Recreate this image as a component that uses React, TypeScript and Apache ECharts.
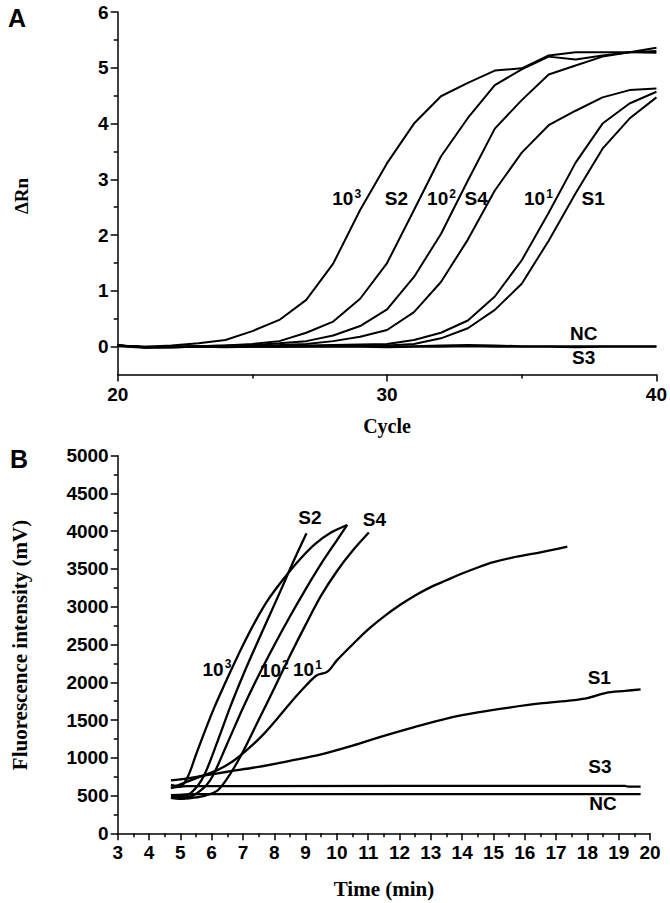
import React, { useEffect, useRef } from "react";
import * as echarts from "echarts";

// ---------- Panel A (real-time PCR) ----------
const cyclesA = [20, 21, 22, 23, 24, 25, 26, 27, 28, 29, 30, 31, 32, 33, 34, 35, 36, 37, 38, 39, 40];
const a10e3 = [0.02, 0.0, 0.02, 0.06, 0.12, 0.28, 0.48, 0.84, 1.49, 2.45, 3.29, 4.0, 4.49, 4.73, 4.95, 4.99, 5.22, 5.28, 5.28, 5.28, 5.27];
const aS2 = [0.02, -0.01, 0.0, 0.01, 0.02, 0.05, 0.1, 0.25, 0.45, 0.86, 1.5, 2.45, 3.41, 4.1, 4.69, 4.97, 5.2, 5.15, 5.22, 5.28, 5.3];
const a10e2 = [0.02, -0.01, 0.0, 0.01, 0.02, 0.03, 0.06, 0.1, 0.2, 0.37, 0.67, 1.25, 2.02, 2.98, 3.91, 4.42, 4.88, 5.04, 5.2, 5.28, 5.36];
const aS4 = [0.02, -0.01, -0.01, 0.0, 0.01, 0.02, 0.03, 0.05, 0.1, 0.18, 0.3, 0.62, 1.16, 1.92, 2.8, 3.48, 3.97, 4.23, 4.47, 4.6, 4.63];
const a10e1 = [0.02, -0.01, -0.01, 0.0, 0.0, 0.01, 0.01, 0.02, 0.03, 0.04, 0.05, 0.12, 0.25, 0.47, 0.9, 1.55, 2.4, 3.3, 4.0, 4.36, 4.57];
const aS1 = [0.02, -0.01, -0.01, 0.0, 0.0, 0.0, 0.01, 0.01, 0.02, 0.02, 0.02, 0.05, 0.15, 0.33, 0.66, 1.13, 1.9, 2.75, 3.55, 4.09, 4.47];
const aNC = [0.02, 0.0, 0.0, 0.01, 0.0, 0.01, 0.0, 0.01, 0.01, 0.01, 0.01, 0.01, 0.02, 0.03, 0.02, 0.01, 0.01, 0.01, 0.01, 0.01, 0.01];
const aS3 = [0.01, -0.02, -0.01, 0.0, -0.01, 0.0, 0.0, 0.0, 0.0, 0.0, -0.01, 0.0, 0.0, 0.01, 0.0, 0.0, 0.0, -0.01, 0.0, 0.0, 0.0];

const aYLabels = [0, 1, 2, 3, 4, 5, 6];
const aYMinor = [0.5, 1.5, 2.5, 3.5, 4.5, 5.5];

const aLabelText = ["10", "S2", "10", "S4", "10", "S1", "NC", "S3"];
const aLabelSup = ["3", "", "2", "", "1", "", "", ""];
const aLabelX = [28.5, 30.35, 32.02, 33.31, 35.62, 37.65, 37.3, 37.3];
const aLabelY = [2.65, 2.65, 2.65, 2.65, 2.65, 2.65, 0.23, -0.2];

// ---------- Panel B (isothermal detection) ----------
const bT10e3 = [4.7, 5.0, 5.25, 5.5, 5.8, 6.1, 6.4, 6.7, 7.0, 7.4, 7.8, 8.3, 8.8, 9.3, 9.8, 10.33];
const bV10e3 = [640, 620, 760, 1040, 1370, 1680, 1960, 2230, 2490, 2810, 3090, 3370, 3620, 3830, 3980, 4083];
const bTS2 = [4.7, 5.0, 5.35, 5.75, 6.2, 6.6, 7.0, 7.4, 7.8, 8.2, 8.6, 9.03];
const bVS2 = [500, 490, 540, 760, 1230, 1680, 2090, 2470, 2840, 3210, 3590, 3974];
const bT10e2 = [4.7, 5.0, 5.45, 5.95, 6.5, 7.0, 7.5, 8.0, 8.5, 9.0, 9.5, 10.0, 10.33];
const bV10e2 = [480, 470, 510, 700, 1190, 1660, 2090, 2490, 2870, 3230, 3570, 3880, 4083];
const bTS4 = [4.7, 5.0, 5.4, 5.8, 6.2, 6.6, 7.0, 7.5, 8.0, 8.5, 9.0, 9.5, 10.0, 10.5, 11.02];
const bVS4 = [470, 455, 470, 500, 570, 790, 1080, 1500, 1920, 2350, 2760, 3150, 3470, 3740, 3982];
const bT10e1 = [4.7, 5.2, 5.7, 6.2, 6.7, 7.2, 7.7, 8.1, 8.5, 9.0, 9.35, 9.7, 10.0, 10.5, 11.0, 11.5, 12.0, 12.5, 13.0, 13.5, 14.0, 14.5, 15.0, 15.6, 16.5, 17.36];
const bV10e1 = [600, 680, 760, 840, 960, 1130, 1330, 1520, 1720, 1950, 2090, 2140, 2290, 2500, 2700, 2870, 3020, 3150, 3260, 3350, 3440, 3520, 3590, 3650, 3720, 3796];
const bTS1 = [4.7, 5.2, 5.7, 6.5, 7.5, 8.5, 9.5, 10.5, 11.5, 12.5, 13.5, 14.5, 15.5, 16.5, 17.5, 18.0, 18.6, 19.2, 19.7];
const bVS1 = [700, 725, 760, 815, 880, 960, 1045, 1160, 1290, 1410, 1520, 1600, 1665, 1720, 1760, 1790, 1860, 1885, 1907];
const bTS3 = [4.7, 5.2, 19.2, 19.3, 19.7];
const bVS3 = [600, 625, 628, 618, 618];
const bTNC = [4.7, 5.5, 19.7];
const bVNC = [505, 520, 520];

const bLabelText = ["10", "10", "10", "S2", "S4", "S1", "S3", "NC"];
const bLabelSup = ["3", "2", "1", "", "", "", "", ""];
const bLabelX = [6.17, 8.0, 9.06, 9.14, 11.2, 18.38, 18.4, 18.5];
const bLabelY = [2175, 2160, 2164, 4183, 4150, 2057, 891, 388];

const SANS = "'Liberation Sans', Arial, Helvetica, sans-serif";
const SERIF = "'Liberation Serif', 'Times New Roman', serif";

export default function App() {
  const ref = useRef<HTMLDivElement>(null);

  useEffect(() => {
    document.body.style.margin = "0";
    if (!ref.current) return;
    const chart = echarts.init(ref.current, undefined, { renderer: "svg" });

    const lineA = (vals: number[]) => ({
      type: "line",
      xAxisIndex: 0,
      yAxisIndex: 0,
      data: cyclesA.map((c, i) => [c, vals[i]]),
      symbol: "none",
      lineStyle: { color: "#000", width: 2 },
      silent: true,
      z: 3,
    });
    const lineB = (ts: number[], vs: number[]) => ({
      type: "line",
      xAxisIndex: 1,
      yAxisIndex: 2,
      data: ts.map((t, i) => [t, vs[i]]),
      symbol: "none",
      smooth: 0.3,
      lineStyle: { color: "#000", width: 2.3 },
      silent: true,
      z: 3,
    });
    const rich = {
      b: { fontFamily: SANS, fontWeight: "bold", fontSize: 19, color: "#000", lineHeight: 22, verticalAlign: "middle", textBorderWidth: 0, opacity: 1 },
      s: { fontFamily: SANS, fontWeight: "bold", fontSize: 12, color: "#000", lineHeight: 12, verticalAlign: "top", padding: [0, 0, 0, 1], textBorderWidth: 0, opacity: 1 },
    };
    const labelSeries = (xi: number, yi: number, xs: number[], ys: number[], texts: string[], sups: string[]) => ({
      type: "scatter",
      xAxisIndex: xi,
      yAxisIndex: yi,
      symbolSize: 0,
      silent: true,
      z: 5,
      itemStyle: { color: "#000", opacity: 1 },
      data: xs.map((x, i) => ({ value: [x, ys[i]], base: texts[i], sup: sups[i] })),
      label: {
        show: true,
        position: "inside",
        color: "#000",
        opacity: 1,
        textBorderWidth: 0,
        textBorderColor: "transparent",
        formatter: (p: any) => (p.data.sup ? `{b|${p.data.base}}{s|${p.data.sup}}` : `{b|${p.data.base}}`),
        rich,
      },
    });

    const axisLineStyle = { lineStyle: { color: "#000", width: 1.5 } };
    const tickLabel = { fontFamily: SANS, fontWeight: "bold", fontSize: 19, color: "#000" };
    const plain = (v: number) => String(v);

    const option: any = {
      animation: false,
      backgroundColor: "#fff",
      grid: [
        { left: 117.7, right: 13.2, top: 12, height: 362.6 },
        { left: 117.7, right: 20, top: 455.7, height: 377.6 },
      ],
      xAxis: [
        {
          type: "value",
          gridIndex: 0,
          min: 20,
          max: 40,
          interval: 10,
          axisLine: { show: true, onZero: false, ...axisLineStyle },
          axisTick: { show: true, length: 7, lineStyle: { color: "#000", width: 1.5 } },
          minorTick: { show: true, splitNumber: 2, length: 4, lineStyle: { color: "#000", width: 1.5 } },
          axisLabel: { ...tickLabel, margin: 10, formatter: plain },
          splitLine: { show: false },
        },
        {
          type: "value",
          gridIndex: 1,
          min: 3,
          max: 20,
          interval: 1,
          axisLine: { show: true, onZero: false, ...axisLineStyle },
          axisTick: { show: true, length: 7, lineStyle: { color: "#000", width: 1.5 } },
          minorTick: { show: true, splitNumber: 2, length: 4, lineStyle: { color: "#000", width: 1.5 } },
          axisLabel: { ...tickLabel, margin: 10, formatter: plain },
          splitLine: { show: false },
        },
      ],
      yAxis: [
        {
          type: "value",
          gridIndex: 0,
          min: -0.5,
          max: 6,
          position: "left",
          axisLine: { show: true, onZero: false, ...axisLineStyle },
          axisTick: { show: true, length: 7, customValues: aYLabels, lineStyle: { color: "#000", width: 1.5 } },
          axisLabel: { ...tickLabel, margin: 9, customValues: aYLabels, formatter: plain },
          splitLine: { show: false },
        },
        {
          type: "value",
          gridIndex: 0,
          min: -0.5,
          max: 6,
          position: "left",
          offset: 0,
          axisLine: { show: false },
          axisTick: { show: true, length: 4, customValues: aYMinor, lineStyle: { color: "#000", width: 1.5 } },
          axisLabel: { show: false },
          splitLine: { show: false },
        },
        {
          type: "value",
          gridIndex: 1,
          min: 0,
          max: 5000,
          interval: 500,
          axisLine: { show: true, onZero: false, ...axisLineStyle },
          axisTick: { show: true, length: 7, lineStyle: { color: "#000", width: 1.5 } },
          minorTick: { show: true, splitNumber: 2, length: 4, lineStyle: { color: "#000", width: 1.5 } },
          axisLabel: { ...tickLabel, margin: 9, formatter: plain },
          splitLine: { show: false },
        },
      ],
      graphic: [
        { type: "text", x: 8, y: 5, style: { text: "A", font: `bold 25px ${SANS}`, fill: "#000" } },
        { type: "text", x: 10, y: 446, style: { text: "B", font: `bold 25px ${SANS}`, fill: "#000" } },
        {
          type: "text",
          x: 21,
          y: 196,
          rotation: Math.PI / 2,
          style: { text: "ΔRn", font: `bold 19px ${SERIF}`, fill: "#000", textAlign: "center", textVerticalAlign: "middle" },
        },
        {
          type: "text",
          x: 387,
          y: 426,
          style: { text: "Cycle", font: `bold 20px ${SERIF}`, fill: "#000", textAlign: "center", textVerticalAlign: "middle" },
        },
        {
          type: "text",
          x: 20,
          y: 645,
          rotation: Math.PI / 2,
          style: { text: "Fluorescence intensity (mV)", font: `bold 21px ${SERIF}`, fill: "#000", textAlign: "center", textVerticalAlign: "middle" },
        },
        {
          type: "text",
          x: 384,
          y: 889,
          style: { text: "Time (min)", font: `bold 21px ${SERIF}`, fill: "#000", textAlign: "center", textVerticalAlign: "middle" },
        },
      ],
      series: [
        lineA(aNC),
        lineA(aS3),
        lineA(aS1),
        lineA(a10e1),
        lineA(aS4),
        lineA(a10e2),
        lineA(aS2),
        lineA(a10e3),
        labelSeries(0, 0, aLabelX, aLabelY, aLabelText, aLabelSup),
        lineB(bTNC, bVNC),
        lineB(bTS3, bVS3),
        lineB(bTS1, bVS1),
        lineB(bT10e1, bV10e1),
        lineB(bTS4, bVS4),
        lineB(bT10e2, bV10e2),
        lineB(bTS2, bVS2),
        lineB(bT10e3, bV10e3),
        labelSeries(1, 2, bLabelX, bLabelY, bLabelText, bLabelSup),
      ],
    };
    chart.setOption(option);
    return () => chart.dispose();
  }, []);

  return <div ref={ref} style={{ position: "fixed", left: 0, top: 0, width: 670, height: 903, background: "#fff" }} />;
}
